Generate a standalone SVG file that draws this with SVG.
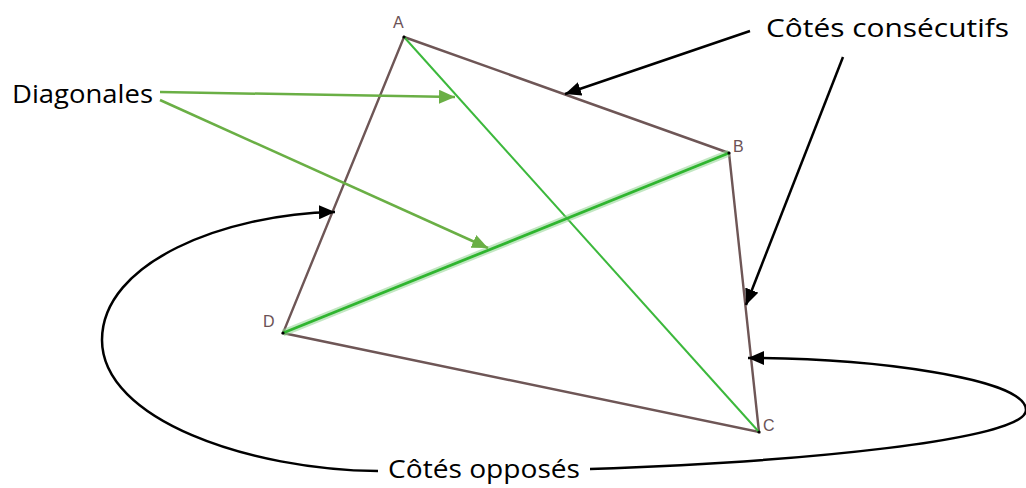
<svg xmlns="http://www.w3.org/2000/svg" width="1026" height="488" viewBox="0 0 1026 488">
<defs>
<style>
.edge{stroke:#6e5656;stroke-width:2.4;fill:none;stroke-linecap:round}
.diag{stroke:#3cb83c;stroke-width:2;fill:none}
.glow{stroke:#8fd48f;stroke-width:7;opacity:0.55;fill:none}
.garrow{stroke:#6aaf45;stroke-width:2.5;fill:none}
.barrow{stroke:#000;stroke-width:2.5;fill:none}
.vlabel{font-family:"Liberation Sans",Arial,sans-serif;font-size:16px;fill:#6b5256}
.label{font-family:"Open Sans","DejaVu Sans",sans-serif;font-size:26px;fill:#000}
</style>
<marker id="ga" viewBox="0 0 16 14" refX="16" refY="7" markerWidth="16" markerHeight="14" markerUnits="userSpaceOnUse" orient="auto">
<path d="M0,0 L16,7 L0,14 z" fill="#6aaf45"/>
</marker>
<marker id="ba" viewBox="0 0 16 14" refX="16" refY="7" markerWidth="16" markerHeight="14" markerUnits="userSpaceOnUse" orient="auto">
<path d="M0,0 L16,7 L0,14 z" fill="#000"/>
</marker>
</defs>
<rect width="1026" height="488" fill="#fff"/>

<g id="quadrilateral">
<path class="edge" d="M404,37 L729,153 L759,432 L283,333 Z"/>
<line class="diag" x1="404" y1="37" x2="759" y2="432"/>
<line class="glow" x1="729" y1="153" x2="283" y2="333"/>
<line class="diag" x1="729" y1="153" x2="283" y2="333" style="stroke-width:2.8;stroke:#2fb52f"/>
<circle cx="404" cy="37" r="1.6" fill="#000"/>
<circle cx="729" cy="153" r="1.6" fill="#000"/>
<circle cx="759" cy="432" r="1.6" fill="#000"/>
<circle cx="283" cy="333" r="1.6" fill="#000"/>
</g>
<g id="vertex-A"><text class="vlabel" x="393" y="28">A</text></g>
<g id="vertex-B"><text class="vlabel" x="733" y="152">B</text></g>
<g id="vertex-C"><text class="vlabel" x="763" y="431">C</text></g>
<g id="vertex-D"><text class="vlabel" x="263" y="327">D</text></g>

<g id="label-diagonales"><text class="label" x="12" y="103" textLength="141" lengthAdjust="spacingAndGlyphs">Diagonales</text></g>
<g id="label-consecutifs"><text class="label" x="766" y="37" textLength="243" lengthAdjust="spacingAndGlyphs">Côtés consécutifs</text></g>
<g id="label-opposes"><text class="label" x="388" y="478" textLength="192" lengthAdjust="spacingAndGlyphs">Côtés opposés</text></g>

<g id="connectors">
<line class="garrow" x1="160" y1="92" x2="455" y2="97" marker-end="url(#ga)"/>
<line class="garrow" x1="160" y1="100" x2="488" y2="248" marker-end="url(#ga)"/>
<line class="barrow" x1="750" y1="31" x2="565" y2="94" marker-end="url(#ba)"/>
<line class="barrow" x1="843" y1="57" x2="746" y2="305" marker-end="url(#ba)"/>
<path class="barrow" d="M590,469 C800,462 1026,440 1026,410 C1026,378 870,358 748,358" marker-end="url(#ba)"/>
<path class="barrow" d="M378,471 C250,470 102,420 102,340 C102,262 225,214 335,212" marker-end="url(#ba)"/>
</g>
</svg>
